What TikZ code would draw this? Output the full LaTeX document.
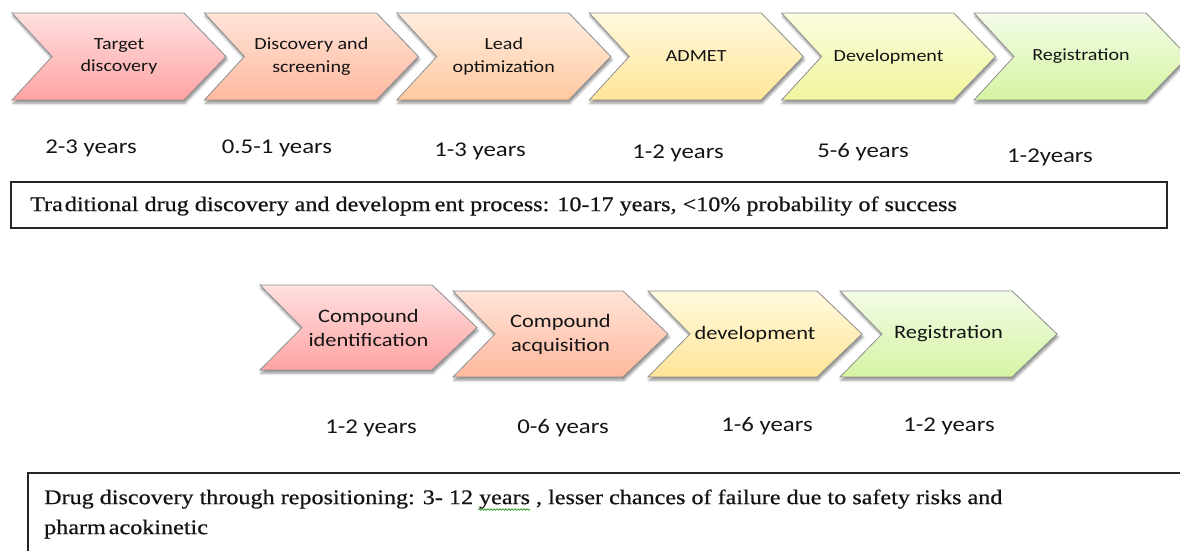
\documentclass[tikz,border=0pt]{standalone}
\usepackage{fontspec}
\newfontfamily\calfont[FakeStretch=1.18]{Carlito}
\newfontfamily\timesfont[FakeStretch=1.16,FakeBold=0.6]{Liberation Serif}
\usetikzlibrary{shadows,shadows.blur,decorations.pathmorphing}
\definecolor{aT}{HTML}{FFE0E0}\definecolor{aB}{HTML}{FFA3A3}
\definecolor{bT}{HTML}{FFE4D8}\definecolor{bB}{HTML}{FFB89E}
\definecolor{cT}{HTML}{FFEDDF}\definecolor{cB}{HTML}{FFC9A0}
\definecolor{dT}{HTML}{FFF9DE}\definecolor{dB}{HTML}{FFE597}
\definecolor{eT}{HTML}{FBFDDE}\definecolor{eB}{HTML}{F0F59C}
\definecolor{fT}{HTML}{F3FCE8}\definecolor{fB}{HTML}{D5F4A2}
\definecolor{edge}{HTML}{8E8E8E}
\definecolor{ink}{HTML}{141414}
\def\tipd{42}\def\notchd{40}
\newcommand\chv[8]{%
  \path[chev, top color=#5, bottom color=#6]
    (#1,#2) -- ({#1+#3-\tipd},#2) -- ({#1+#3},{#2+#4/2}) -- ({#1+#3-\tipd},{#2+#4})
    -- (#1,{#2+#4}) -- ({#1+\notchd},{#2+#4/2}) -- cycle;
  \node[lbl] (#7) at ({#1+#3/2},{#2+#4/2}) {#8};}
\begin{document}
\begin{tikzpicture}[x=1pt,y=-1pt,
  chev/.style={draw=edge, line width=0.8pt,
    blur shadow={shadow xshift=1pt,shadow yshift=-3pt,shadow blur radius=2.5pt,shadow opacity=45}},
  lbl/.style={font=\calfont\fontsize{17}{22.5}\selectfont, align=center, text=ink, inner sep=0pt},
  yrs/.style={font=\calfont\fontsize{21}{25}\selectfont, text=ink, inner sep=0pt},
  boxst/.style={draw=black!85, line width=1.6pt, fill=white},
  serif/.style={font=\timesfont\fontsize{20.8}{30}\selectfont, text=ink, inner sep=0pt, align=left}]
\useasboundingbox (0,0) rectangle (1180,550);
\clip (0,0) rectangle (1180,550);
% top row
\chv{12}{13}{214}{87}{aT}{aB}{t1}{Target\\discovery}
\chv{204.4}{13}{214}{87}{bT}{bB}{t2}{Discovery and\\screening}
\chv{396.8}{13}{214}{87}{cT}{cB}{t3}{Lead\\optimization}
\chv{589.2}{13}{214}{87}{dT}{dB}{t4}{ADMET}
\chv{781.6}{13}{214}{87}{eT}{eB}{t5}{Development}
\chv{974}{13}{214}{87}{fT}{fB}{t6}{Registration}
\node[yrs] (y1) at (91,148) {2-3 years};
\node[yrs] (y2) at (277,148) {0.5-1 years};
\node[yrs] (y3) at (480,151) {1-3 years};
\node[yrs] (y4) at (678,153) {1-2 years};
\node[yrs] (y5) at (863,152) {5-6 years};
\node[yrs] (y6) at (1050,157) {1-2years};
\node[boxst, anchor=north west, minimum width=1156pt, minimum height=46pt] (box1) at (10,181) {};
\node[serif, anchor=west] (txt1) at (30,206) {Tra\hspace{2pt}ditional drug discovery and developm\hspace{4pt}ent process: 10-17 years, <10\% probability of success};
% bottom row
\def\tipd{45}\def\notchd{42}
\tikzset{lbl/.append style={font=\calfont\fontsize{19}{24}\selectfont}}
\chv{260}{285}{217}{85}{aT}{aB}{b1}{Compound\\identification}
\chv{453}{291}{215}{86}{bT}{bB}{b2}{Compound\\acquisition}
\chv{648}{291}{214}{86}{dT}{dB}{b3}{development}
\chv{840}{291}{217}{86}{fT}{fB}{b4}{Registration}
\node[yrs] (z1) at (371,428) {1-2 years};
\node[yrs] (z2) at (563,428) {0-6 years};
\node[yrs] (z3) at (767,426) {1-6 years};
\node[yrs] (z4) at (949,426) {1-2 years};
\node[boxst, anchor=north west, minimum width=1170pt, minimum height=100pt] (box2) at (27,472) {};
\node[serif, anchor=west] (txt2) at (44,514) {Drug discovery through repositioning: 3- 12 years , lesser chances of failure due to safety risks and\\pharm\hspace{3pt}acokinetic};
\coordinate (wl) at (478,509.5);
\coordinate (wr) at (530,509.5);
\draw[green!55!black, line width=0.6pt, decorate, decoration={snake, amplitude=0.8pt, segment length=3pt}] (wl) -- (wr);
\end{tikzpicture}
\end{document}
